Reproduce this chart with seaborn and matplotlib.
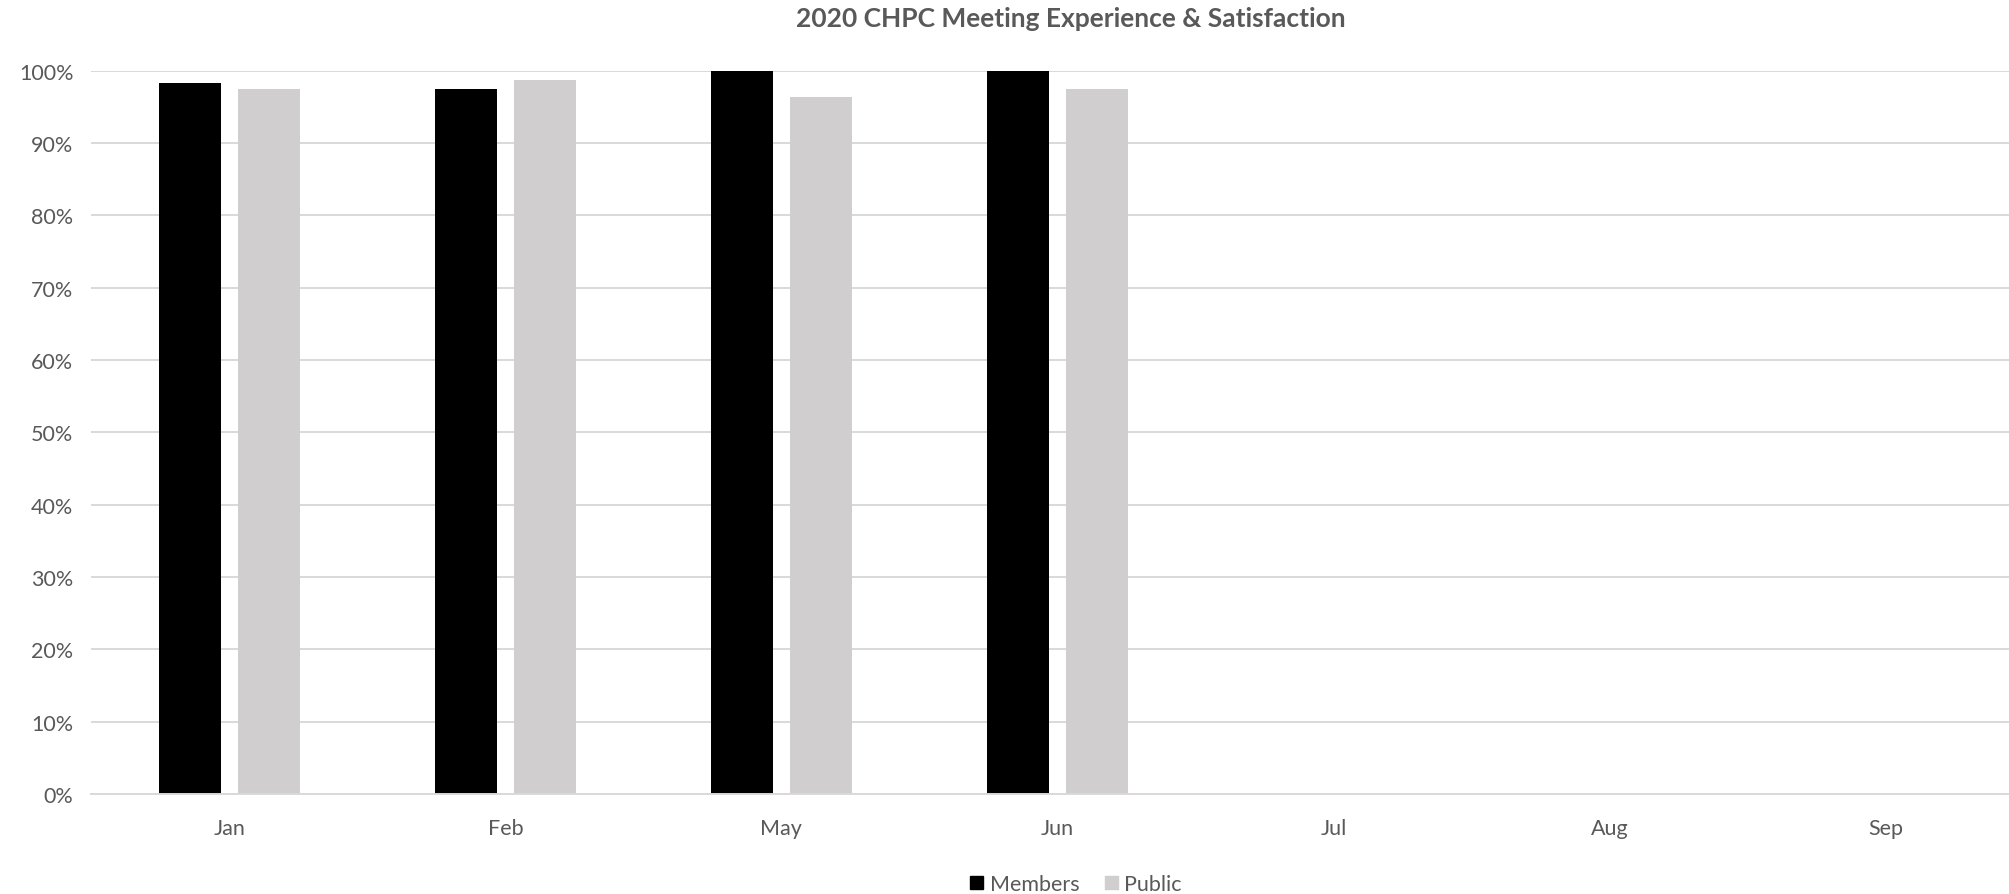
import pandas as pd
import matplotlib
matplotlib.use("Agg")
import matplotlib.pyplot as plt
import seaborn as sns
from matplotlib.ticker import PercentFormatter

# Données
months = ["Jan", "Feb", "May", "Jun", "Jul", "Aug", "Sep"]
data_months = ["Jan", "Feb", "May", "Jun"]
members = [0.983, 0.974, 1.0, 1.0]
public = [0.974, 0.9875, 0.963, 0.974]
groups = ["Members", "Public"]
colors = ["#000000", "#d0cece"]

df = pd.DataFrame({
    "Month": data_months * 2,
    "Group": ["Members"] * len(members) + ["Public"] * len(public),
    "Value": members + public,
})

sns.set_style("white")
plt.rcParams["font.family"] = ["Lato", "DejaVu Sans"]

fig = plt.figure(figsize=(20.09, 8.95), dpi=100)
ax = fig.add_axes([0.0455, 0.1117, 0.9617, 0.8083])

sns.barplot(data=df, x="Month", y="Value", hue="Group", order=months,
            hue_order=groups, palette=colors, width=0.572, gap=0.215,
            ax=ax, legend=False, saturation=1, linewidth=0)

ax.set_ylim(0, 1.0)
ax.set_xlim(-0.5, len(months) - 0.5)
ax.set_yticks([i / 10 for i in range(11)])
ax.yaxis.set_major_formatter(PercentFormatter(1.0, decimals=0))
ax.grid(axis="y", color="#d9d9d9", linewidth=1.4)
ax.set_axisbelow(True)
for s in ["top", "right", "left"]:
    ax.spines[s].set_visible(False)
ax.spines["bottom"].set_color("#d9d9d9")
ax.spines["bottom"].set_linewidth(1.4)
ax.tick_params(axis="both", length=0, labelsize=15.5, colors="#595959")
ax.tick_params(axis="x", pad=17)
ax.tick_params(axis="y", pad=13)
ax.set_xlabel("")
ax.set_ylabel("")

fig.text(1071 / 2009, 1 - 19 / 895, "2020 CHPC Meeting Experience & Satisfaction",
         ha="center", va="center", fontsize=19, fontweight="bold", color="#595959")

handles = [plt.Rectangle((0, 0), 1, 1, color=c) for c in colors]
fig.legend(handles, groups, loc="center", bbox_to_anchor=(1076 / 2009, 1 - 885 / 895),
           ncol=2, frameon=False, fontsize=15.5, handlelength=0.6, handleheight=0.6,
           handletextpad=0.3, columnspacing=1.2, labelcolor="#595959")

fig.savefig("out.png", dpi=100)
